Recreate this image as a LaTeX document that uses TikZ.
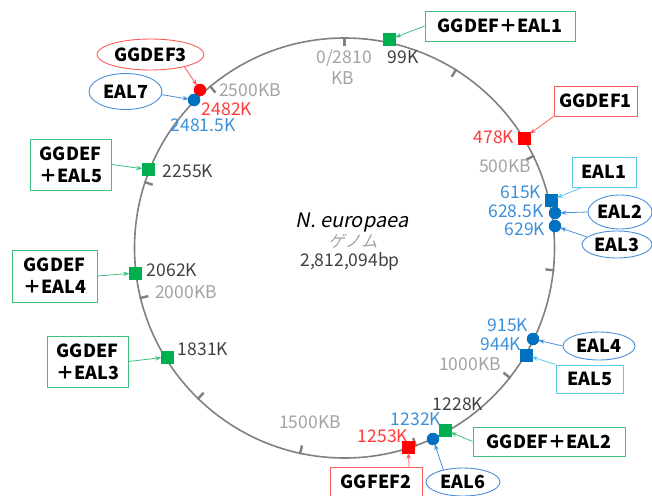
\documentclass[tikz,border=0pt]{standalone}
\usepackage{fontspec}
\setmainfont{Noto Sans CJK JP}
\newfontfamily\slantfont[FakeSlant=0.2]{Noto Sans CJK JP}
\usetikzlibrary{shapes.geometric,arrows.meta}
\definecolor{mgreen}{HTML}{00B050}
\definecolor{boxgreen}{HTML}{40C080}
\definecolor{mred}{HTML}{FF0000}
\definecolor{redtxt}{HTML}{FF3B3B}
\definecolor{boxred}{HTML}{FF5B5B}
\definecolor{mblue}{HTML}{0070C0}
\definecolor{bluetxt}{HTML}{3D8FD9}
\definecolor{boxblue}{HTML}{5BC8F0}
\definecolor{ellblue}{HTML}{4A90D9}
\definecolor{graytxt}{HTML}{A3A3A3}
\definecolor{darktxt}{HTML}{404040}
\definecolor{ringgray}{HTML}{808080}
\tikzset{
  x=1pt,y=-1pt,
  lab/.style={font=\fontsize{17.5}{20}\selectfont, inner sep=0pt, text depth=0pt},
  gl/.style={lab, text=graytxt},
  dl/.style={lab, text=darktxt},
  rl/.style={lab, text=redtxt},
  bl/.style={lab, text=bluetxt},
  bx/.style={draw, line width=0.9pt, fill=white, inner sep=0pt, align=center,
     font=\fontsize{18}{22}\selectfont\bfseries, text=black},
  gbox/.style={bx, draw=boxgreen},
  rbox/.style={bx, draw=boxred},
  bbox/.style={bx, draw=boxblue},
  ell/.style={ellipse, draw, line width=0.9pt, fill=white, inner sep=0pt,
     font=\fontsize{18}{22}\selectfont\bfseries, text=black},
  rell/.style={ell, draw=boxred},
  bell/.style={ell, draw=ellblue},
  sq/.style={rectangle, minimum size=13pt, inner sep=0pt},
  dot/.style={circle, minimum size=12.5pt, inner sep=0pt},
  arr/.style={line width=0.8pt, -{Stealth[length=6pt,width=4.5pt]}, shorten >=-1pt},
  ga/.style={arr, draw=boxgreen},
  ra/.style={arr, draw=boxred},
  ba/.style={arr, draw=ellblue},
}
\begin{document}
\begin{tikzpicture}
\useasboundingbox (0,0) rectangle (652,495);
% genome ring
\draw[ringgray, line width=1.6pt] (344.5,248) circle[radius=210];
\foreach \k in {0,...,10}{
  \pgfmathsetmacro{\a}{\k*250/2810*360}
  \draw[ringgray, line width=2.4pt] ({344.5+211*sin(\a)},{248-211*cos(\a)}) -- ({344.5+202*sin(\a)},{248-202*cos(\a)});
}
% centre text
\node[lab, font=\fontsize{20}{22}\slantfont] (t1) at (352,220) {N. europaea};
\node[lab, font=\fontsize{16.5}{18}\slantfont, text=graytxt] (t2) at (353,241) {ゲノム};
\node[lab, font=\fontsize{17.5}{20}\selectfont, text=darktxt] (t3) at (350,260) {2,812,094bp};
% scale labels
\node[gl] (s0) at (344,57) {0/2810};
\node[gl] (s0b) at (343,78) {KB};
\node[gl] (s500) at (505,166) {500KB};
\node[gl] (s1000) at (470,364) {1000KB};
\node[gl] (s1500) at (310,422) {1500KB};
\node[gl] (s2000) at (186,292) {2000KB};
\node[gl] (s2500) at (250,90) {2500KB};
% position labels
\node[dl] (l99) at (403,57) {99K};
\node[rl] (l478) at (494,137) {478K};
\node[bl] (l615) at (521,192) {615K};
\node[bl] (l628) at (516,211) {628.5K};
\node[bl] (l629) at (525,229.5) {629K};
\node[bl] (l915) at (508,325) {915K};
\node[bl] (l944) at (501,344) {944K};
\node[dl] (l1228) at (458,404) {1228K};
\node[bl] (l1232) at (416,419.5) {1232K};
\node[rl] (l1253) at (383,436) {1253K};
\node[dl] (l1831) at (203,349) {1831K};
\node[dl] (l2062) at (172,270) {2062K};
\node[dl] (l2255) at (188,171) {2255K};
\node[bl] (l2481) at (203,125) {2481.5K};
\node[rl] (l2482) at (227,109) {2482K};
% markers
\node[sq, fill=mgreen] (m99) at (389.5,39.5) {};
\node[sq, fill=mred] (m478) at (524,138) {};
\node[sq, fill=mblue] (m615) at (551,200) {};
\node[dot, fill=mblue] (m628) at (555,213) {};
\node[dot, fill=mblue] (m629) at (555,226) {};
\node[dot, fill=mblue] (m915) at (533,339) {};
\node[sq, fill=mblue] (m944) at (526,355) {};
\node[sq, fill=mgreen] (m1228) at (445,430) {};
\node[dot, fill=mblue] (m1232) at (433,439) {};
\node[sq, fill=mred] (m1253) at (408,447) {};
\node[sq, fill=mgreen] (m1831) at (167,357) {};
\node[sq, fill=mgreen] (m2062) at (135,273) {};
\node[sq, fill=mgreen] (m2255) at (148,169.5) {};
\node[dot, fill=mred] (m2482) at (200,90) {};
\node[dot, fill=mblue] (m2481) at (194,100) {};
% callout boxes
\node[gbox, minimum width=150pt, minimum height=30pt] (bGE1) at (500,26) {GGDEF＋EAL1};
\node[rbox, minimum width=83pt, minimum height=30pt] (bG1) at (595.5,101) {GGDEF1};
\node[bbox, minimum width=64pt, minimum height=30pt] (bE1) at (604,172) {EAL1};
\node[bbox, minimum width=67pt, minimum height=28pt] (bE5) at (589.5,379) {EAL5};
\node[gbox, minimum width=152pt, minimum height=29pt] (bGE2) at (549,441.5) {GGDEF＋EAL2};
\node[rbox, minimum width=92pt, minimum height=30pt] (bG2) at (376,482) {GGFEF2};
\node[gbox, minimum width=81pt, minimum height=51pt] (bGE5) at (70.5,164.5) {GGDEF\\＋EAL5};
\node[gbox, minimum width=85pt, minimum height=52pt] (bGE4) at (54.5,276) {GGDEF\\＋EAL4};
\node[gbox, minimum width=81pt, minimum height=51pt] (bGE3) at (87.5,361.5) {GGDEF\\＋EAL3};
% callout ellipses
\node[rell, minimum width=107pt, minimum height=31pt] (eG3) at (150.5,54.5) {GGDEF3};
\node[bell, minimum width=73pt, minimum height=36pt] (eE7) at (125.5,91.5) {EAL7};
\node[bell, minimum width=64pt, minimum height=34pt] (eE2) at (620,212) {EAL2};
\node[bell, minimum width=70pt, minimum height=27pt] (eE3) at (617,244.5) {EAL3};
\node[bell, minimum width=72pt, minimum height=28pt] (eE4) at (599,346) {EAL4};
\node[bell, minimum width=74pt, minimum height=28pt] (eE6) at (463,482) {EAL6};
% connectors
\draw[ga] (bGE1.west) -- (m99);
\draw[ra] (bG1.south west) -- (m478);
\draw[ba, draw=boxblue] (bE1.215) -- (m615);
\draw[ba] (eE2.west) -- (m628);
\draw[ba] (eE3.166) -- (m629);
\draw[ba] (eE4.west) -- (m915);
\draw[ba, draw=boxblue] (bE5.north west) -- (m944);
\draw[ga] (bGE2.west) -- (m1228);
\draw[ba] (eE6.148) -- (m1232);
\draw[ra] (bG2.25.1) -- (m1253);
\draw[ga] (bGE5.east) -- (m2255);
\draw[ga] (bGE4.east) -- (m2062);
\draw[ga] (bGE3.east) -- (m1831);
\draw[ra] (eG3.-20) -- (m2482);
\draw[ba] (eE7.-5) -- (m2481);
\end{tikzpicture}
\end{document}
